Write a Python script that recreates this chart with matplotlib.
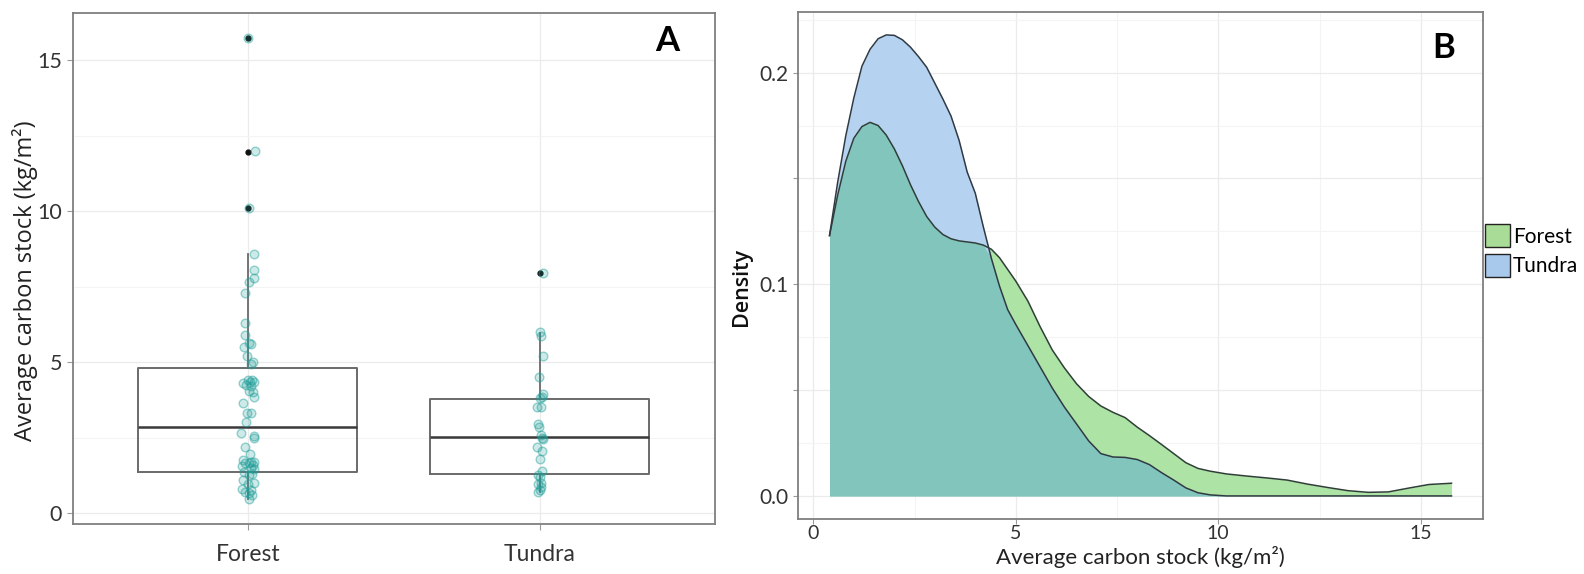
import numpy as np
import matplotlib
matplotlib.use("Agg")
import matplotlib.pyplot as plt
from matplotlib.patches import Patch

plt.rcParams['font.family'] = ['Lato', 'DejaVu Sans']

# ---- panel A data ----
groups = ['Forest', 'Tundra']

forest_vals = [15.75, 12.0, 10.1, 8.6, 8.05, 7.8, 7.65, 7.3, 6.3, 5.9,
               5.65, 5.6, 5.5, 5.2, 5.0, 4.95, 4.4, 4.4, 4.35, 4.35,
               4.3, 4.25, 4.2, 4.05, 4.0, 3.85, 3.65, 3.3, 3.3, 3.0,
               2.65, 2.55, 2.5, 2.2, 1.95, 1.75, 1.7, 1.7, 1.65, 1.65,
               1.6, 1.55, 1.5, 1.45, 1.35, 1.3, 1.25, 1.1, 1.0, 0.95,
               0.8, 0.75, 0.7, 0.65, 0.6, 0.45]
forest_jit = [0.0, 0.024, 0.004, 0.02, 0.022, 0.02, 0.005, -0.01, -0.01, -0.008,
              0.005, 0.01, -0.012, -0.003, 0.018, 0.012, 0.0, 0.015, 0.02, 0.008,
              -0.015, -0.005, 0.012, 0.004, 0.018, 0.02, -0.018, -0.004, 0.01, -0.006,
              -0.022, 0.022, 0.02, -0.008, 0.008, -0.015, 0.02, 0.012, -0.01, 0.005,
              0.018, -0.02, 0.01, 0.022, -0.012, 0.015, 0.005, -0.018, 0.02, 0.0,
              -0.02, 0.01, -0.008, 0.005, 0.015, 0.005]

tundra_vals = [7.95, 6.0, 5.85, 5.2, 4.5, 3.95, 3.85, 3.8, 3.5, 3.5,
               2.95, 2.85, 2.6, 2.5, 2.45, 2.2, 2.05, 1.8, 1.4, 1.25,
               1.2, 1.0, 0.95, 0.85, 0.75, 0.7]
tundra_jit = [0.01, 0.0, 0.003, 0.01, -0.003, 0.01, 0.008, 0.0, -0.01, 0.004,
              -0.005, -0.002, 0.005, 0.008, 0.012, -0.01, 0.008, 0.002, 0.008, -0.006,
              0.0, 0.004, -0.006, 0.003, 0.002, -0.005]

# box statistics (whisker low, q1, median, q3, whisker high, outliers)
box_whislo = [0.45, 0.70]
box_q1 = [1.35, 1.28]
box_med = [2.84, 2.51]
box_q3 = [4.82, 3.78]
box_whishi = [8.58, 5.98]
box_fliers = [[10.1, 11.95, 15.75], [7.95]]

# ---- panel B data: density curves ----
dens_x = [0.4, 0.6, 0.8, 1.0, 1.2, 1.4, 1.6, 1.8, 2.0, 2.2, 2.4, 2.6, 2.8, 3.0,
          3.2, 3.4, 3.6, 3.8, 4.0, 4.2, 4.4, 4.6, 4.8, 5.0, 5.3, 5.6, 5.9, 6.2,
          6.5, 6.8, 7.1, 7.4, 7.7, 8.0, 8.3, 8.6, 8.9, 9.2, 9.5, 9.8, 10.2, 10.7,
          11.2, 11.7, 12.2, 12.7, 13.2, 13.7, 14.2, 14.7, 15.2, 15.76]
dens_forest = [0.123, 0.142, 0.158, 0.169, 0.1745, 0.1765, 0.175, 0.1705, 0.164, 0.156,
               0.147, 0.139, 0.132, 0.127, 0.1235, 0.1215, 0.1205, 0.120, 0.1195, 0.1185,
               0.1165, 0.1125, 0.107, 0.1015, 0.092, 0.080, 0.069, 0.0605, 0.053, 0.047,
               0.0425, 0.0395, 0.037, 0.0325, 0.0285, 0.0243, 0.020, 0.0157, 0.013, 0.0117,
               0.0104, 0.0094, 0.0085, 0.0075, 0.0056, 0.004, 0.0025, 0.0017, 0.0019, 0.0037,
               0.0054, 0.006]
dens_tundra = [0.123, 0.148, 0.170, 0.188, 0.203, 0.211, 0.216, 0.2178, 0.2176, 0.2155,
               0.212, 0.2075, 0.2025, 0.195, 0.1875, 0.1795, 0.168, 0.153, 0.143, 0.127,
               0.112, 0.099, 0.088, 0.081, 0.071, 0.061, 0.051, 0.042, 0.034, 0.026,
               0.020, 0.0184, 0.0182, 0.0172, 0.0148, 0.011, 0.0075, 0.0038, 0.0015, 0.0005,
               0.0, 0.0, 0.0, 0.0, 0.0, 0.0, 0.0, 0.0, 0.0, 0.0,
               0.0, 0.0]

grid_major = '#ebebeb'
grid_minor = '#f4f4f4'
frame_col = '#7f7f7f'

fig = plt.figure(figsize=(15.84, 5.74), dpi=100)

# ================= panel A =================
axA = fig.add_axes([0.0458, 0.0868, 0.4056, 0.890])

stats = []
for i in range(2):
    stats.append(dict(whislo=box_whislo[i], q1=box_q1[i], med=box_med[i],
                      q3=box_q3[i], whishi=box_whishi[i], fliers=box_fliers[i]))
axA.bxp(stats, positions=[1, 2], widths=0.75, showcaps=False,
        boxprops=dict(color='#6a6a6a', lw=1.4),
        whiskerprops=dict(color='#6a6a6a', lw=1.3),
        medianprops=dict(color='#3a3a3a', lw=1.8),
        flierprops=dict(marker='o', markerfacecolor='#111111', markeredgecolor='#111111',
                        markersize=3.5, linestyle='none'))

fx = 1 + np.array(forest_jit)
tx = 2 + np.array(tundra_jit)
for xs, ys in [(fx, forest_vals), (tx, tundra_vals)]:
    axA.plot(xs, ys, 'o', ms=6.2, mfc=(0.12, 0.62, 0.6, 0.22),
             mec=(0.12, 0.62, 0.6, 0.45), mew=1.0, ls='none', zorder=4)

axA.set_xlim(0.4, 2.6)
axA.set_ylim(-0.37, 16.56)
axA.set_yticks([0, 5, 10, 15])
axA.set_yticks([2.5, 7.5, 12.5], minor=True)
axA.set_xticks([1, 2])
axA.set_xticklabels(groups)
axA.grid(True, which='major', color=grid_major, lw=0.9)
axA.grid(True, which='minor', axis='y', color=grid_minor, lw=0.8)
axA.set_axisbelow(True)

axA.set_ylabel('Average carbon stock (kg/m\u00b2)', fontsize=17, color='#222222',
               family='Open Sans')
axA.yaxis.set_label_coords(-0.054, 0.477)
axA.tick_params(axis='both', which='major', labelsize=15.5,
                length=4, width=0.8, color='#9a9a9a')
axA.tick_params(axis='x', labelsize=16.5, pad=10)
axA.tick_params(which='minor', length=0)
for lab in axA.get_xticklabels() + axA.get_yticklabels():
    lab.set_color('#333333')
for s in axA.spines.values():
    s.set_color(frame_col)
    s.set_linewidth(1.3)
axA.text(0.925, 0.945, 'A', transform=axA.transAxes, fontsize=25, fontweight='bold',
         ha='center', va='center', color='black')

# ================= panel B =================
axB = fig.add_axes([0.504, 0.0958, 0.4323, 0.8828])

dx = np.array(dens_x)
df_ = np.array(dens_forest)
dt_ = np.array(dens_tundra)
green = '#ade3a5'
blue = '#b6d2f1'
overlap = '#82c5bd'
axB.fill_between(dx, 0, df_, color=green, lw=0, zorder=2)
axB.fill_between(dx, 0, dt_, color=blue, lw=0, zorder=2)
axB.fill_between(dx, 0, np.minimum(df_, dt_), color=overlap, lw=0, zorder=3)
axB.plot(dx, df_, color='#2f3f38', lw=1.1, zorder=4)
axB.plot(dx, dt_, color='#2f3a44', lw=1.1, zorder=4)

axB.set_xlim(-0.37, 16.54)
axB.set_ylim(-0.0109, 0.2285)
axB.set_xticks([0, 5, 10, 15])
axB.set_xticks([2.5, 7.5, 12.5], minor=True)
axB.set_yticks([0, 0.05, 0.1, 0.15, 0.2])
axB.set_yticklabels(['0.0', '', '0.1', '', '0.2'])
axB.set_yticks([0.025, 0.075, 0.125, 0.175, 0.225], minor=True)
axB.grid(True, which='major', color=grid_major, lw=0.9)
axB.grid(True, which='minor', color=grid_minor, lw=0.8)
axB.set_axisbelow(True)

axB.set_xlabel('Average carbon stock (kg/m\u00b2)', fontsize=16, color='#222222')
axB.xaxis.set_label_coords(0.5, -0.053)
axB.set_ylabel('Density', fontsize=15.5, color='#111111', family='Open Sans',
               fontweight='semibold')
axB.yaxis.set_label_coords(-0.068, 0.458)
axB.tick_params(axis='both', which='major', labelsize=15, length=3.5, width=0.8,
                color='#9a9a9a')
axB.tick_params(axis='x', labelsize=14, pad=0.5)
axB.tick_params(which='minor', length=0)
for lab in axB.get_xticklabels() + axB.get_yticklabels():
    lab.set_color('#333333')
for s in axB.spines.values():
    s.set_color(frame_col)
    s.set_linewidth(1.3)
axB.text(0.943, 0.93, 'B', transform=axB.transAxes, fontsize=25, fontweight='bold',
         ha='center', va='center', color='black')

handles = [Patch(facecolor='#a9dc96', edgecolor='#222222', lw=1.0, label='Forest'),
           Patch(facecolor='#a8c9ec', edgecolor='#222222', lw=1.0, label='Tundra')]
fig.legend(handles=handles, loc='upper left', bbox_to_anchor=(1485 / 1584, 1 - 224 / 574),
           frameon=False, fontsize=15, handlelength=1.2, handleheight=1.35,
           handletextpad=0.15, labelspacing=0.3, borderpad=0, borderaxespad=0)

fig.savefig('out.png', dpi=100)
